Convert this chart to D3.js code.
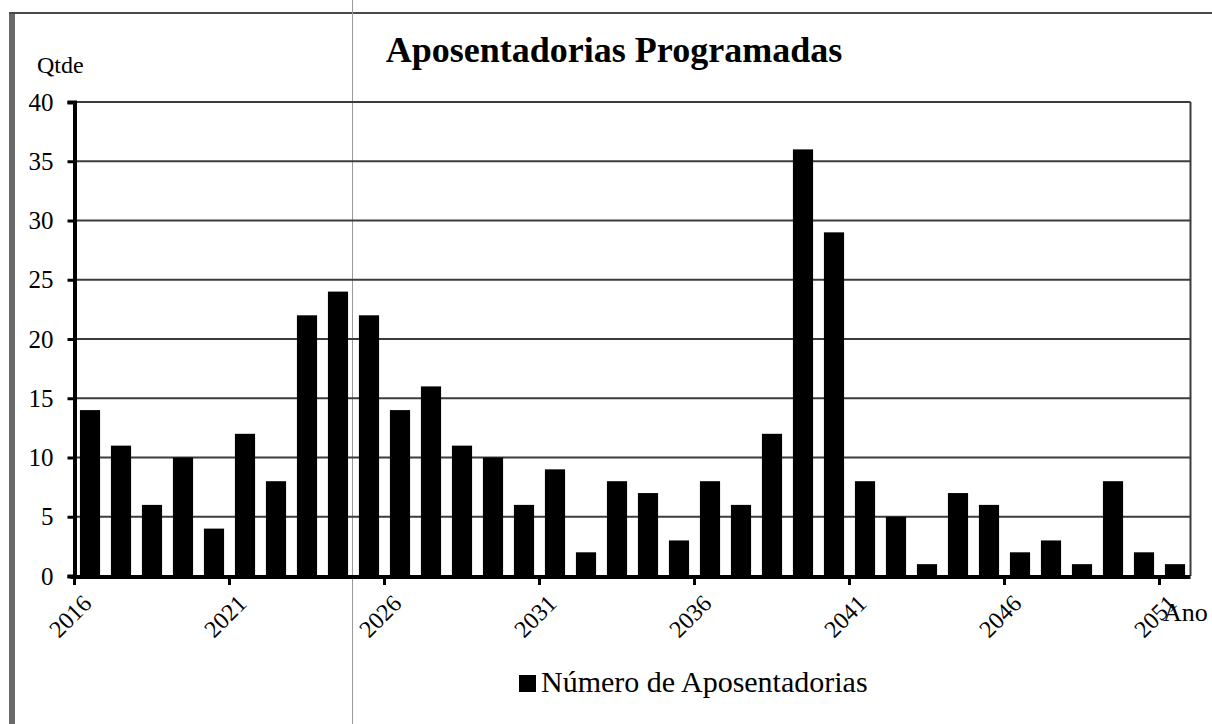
<!DOCTYPE html>
<meta charset='utf-8'>
<html>
  <head>
    <script src="https://d3js.org/d3.v7.min.js"></script>
    <style>
      body { margin: 0; background: #fff; }
      text { font-family: "Liberation Serif", "Times New Roman", serif; fill: #000; }
    </style>
  </head>
  <body>
    <div id="chart"></div>
    <script>
        // data
        var anos = [2016,2017,2018,2019,2020,2021,2022,2023,2024,2025,2026,2027,2028,2029,2030,2031,2032,2033,
                    2034,2035,2036,2037,2038,2039,2040,2041,2042,2043,2044,2045,2046,2047,2048,2049,2050,2051]
        var aposentadorias = [14,11,6,10,4,12,8,22,24,22,14,16,11,10,6,9,2,8,
                              7,3,8,6,12,36,29,8,5,1,7,6,2,3,1,8,2,1]
        var yTicks = [0,5,10,15,20,25,30,35,40]
        var xLabels = [2016,2021,2026,2031,2036,2041,2046,2051]
        var titulo = 'Aposentadorias Programadas'
        var serie = 'Número de Aposentadorias'

        var W = 1212, H = 724
        // plot area (note: "top" is reserved by window, so p* names)
        var pLeft = 74.5, pRight = 1190.5, pTop = 102, pBottom = 576

        var svg = d3.select('#chart').append('svg')
            .attr('width', W)
            .attr('height', H)

        svg.append('rect').attr('width', W).attr('height', H).attr('fill', '#fff')

        // Scales
        var xScale = d3.scaleBand()
            .domain(anos)
            .range([pLeft, pRight])
            .paddingInner(0.35)
            .paddingOuter(0.175)
        var yScale = d3.scaleLinear()
            .domain([0, 40])
            .range([pBottom, pTop])

        // outer frame (scanned page)
        svg.append('line')
            .attr('x1', 12).attr('x2', 12).attr('y1', 12).attr('y2', H)
            .attr('stroke', '#6a6a6a').attr('stroke-width', 6)
        svg.append('line')
            .attr('x1', 9).attr('x2', W).attr('y1', 13).attr('y2', 13)
            .attr('stroke', '#4a4a4a').attr('stroke-width', 2)
        svg.append('line')
            .attr('x1', 352.5).attr('x2', 352.5).attr('y1', 0).attr('y2', H)
            .attr('stroke', '#9a9a9a').attr('stroke-width', 1)

        // gridlines
        svg.append('g')
            .selectAll('line')
            .data(yTicks.filter(function (d) { return d > 0 }))
            .enter()
            .append('line')
            .attr('x1', pLeft).attr('x2', pRight)
            .attr('y1', function (d) { return yScale(d) })
            .attr('y2', function (d) { return yScale(d) })
            .attr('stroke', '#3c3c3c')
            .attr('stroke-width', 2)

        // plot right border
        svg.append('line')
            .attr('x1', pRight).attr('x2', pRight).attr('y1', pTop).attr('y2', pBottom)
            .attr('stroke', '#3c3c3c').attr('stroke-width', 2)

        // bars
        svg.append('g')
            .selectAll('rect')
            .data(anos)
            .enter()
            .append('rect')
            .attr('x', function (d) { return xScale(d) })
            .attr('width', xScale.bandwidth())
            .attr('y', function (d, i) { return yScale(aposentadorias[i]) })
            .attr('height', function (d, i) { return yScale(0) - yScale(aposentadorias[i]) })
            .attr('fill', '#000')

        // Y-axis
        var yAxis = d3.axisLeft(yScale)
            .tickValues(yTicks)
            .tickSize(7)
            .tickPadding(14)
        var gy = svg.append('g')
            .attr('transform', 'translate(' + pLeft + ',0)')
            .call(yAxis)
        gy.select('.domain').attr('stroke', '#000').attr('stroke-width', 4)
        gy.selectAll('.tick line').attr('stroke', '#000').attr('stroke-width', 3)
        gy.selectAll('.tick text')
            .style('font-family', '"Liberation Serif", serif')
            .style('font-size', '25px')
            .attr('fill', '#000')

        // X-axis: ticks at category boundaries every 5 years
        var half = xScale.step() * xScale.paddingInner() / 2
        svg.append('line')
            .attr('x1', pLeft - 4).attr('x2', pRight)
            .attr('y1', pBottom + 1).attr('y2', pBottom + 1)
            .attr('stroke', '#000').attr('stroke-width', 4)
        svg.append('g')
            .selectAll('line')
            .data(xLabels)
            .enter()
            .append('line')
            .attr('x1', function (d) { return xScale(d) - half })
            .attr('x2', function (d) { return xScale(d) - half })
            .attr('y1', pBottom).attr('y2', pBottom + 9)
            .attr('stroke', '#000').attr('stroke-width', 3)
        svg.append('g')
            .selectAll('text')
            .data(xLabels)
            .enter()
            .append('text')
            .attr('transform', function (d) {
                return 'translate(' + (xScale(d) + xScale.bandwidth() / 2 + 3) + ',' + (pBottom + 29) + ') rotate(-45)'
            })
            .attr('text-anchor', 'end')
            .style('font-size', '24px')
            .text(function (d) { return d })

        // axis titles
        svg.append('text')
            .attr('x', 37).attr('y', 73)
            .style('font-size', '24px')
            .text('Qtde')
        svg.append('text')
            .attr('x', 1163).attr('y', 621)
            .style('font-size', '26px')
            .text('Ano')

        // title
        svg.append('text')
            .attr('x', 614).attr('y', 62)
            .attr('text-anchor', 'middle')
            .style('font-size', '36px')
            .style('font-weight', 'bold')
            .text(titulo)

        // legend
        svg.append('rect')
            .attr('x', 519).attr('y', 675)
            .attr('width', 17).attr('height', 17)
            .attr('fill', '#000')
        svg.append('text')
            .attr('x', 541).attr('y', 692)
            .style('font-size', '30px')
            .text(serie)
    </script>
  </body>
</html>
